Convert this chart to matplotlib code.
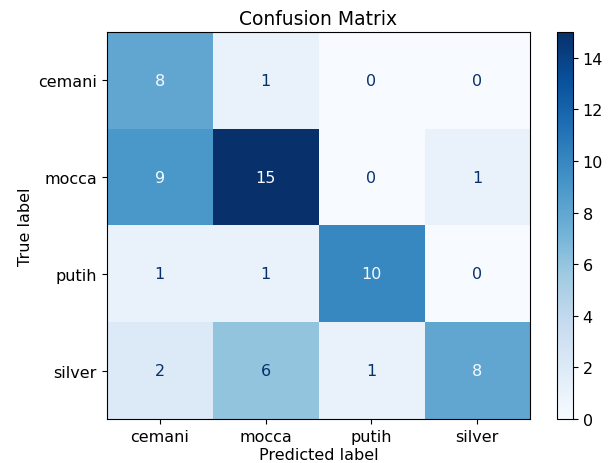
import numpy as np
import matplotlib.pyplot as plt

plt.rcParams["font.size"] = 11.5

labels = ["cemani", "mocca", "putih", "silver"]
cm = np.array([
    [8, 1, 0, 0],
    [9, 15, 0, 1],
    [1, 1, 10, 0],
    [2, 6, 1, 8],
])

fig = plt.figure(figsize=(6.1, 4.64), dpi=100)
ax = fig.add_axes([0.175, 0.095, 0.694, 0.834])
cax = fig.add_axes([0.913, 0.095, 0.026, 0.834])

cmap = plt.cm.Blues
im = ax.imshow(cm, interpolation="nearest", cmap=cmap, aspect="auto")
fig.colorbar(im, cax=cax)

# text colour flips at the midpoint of the value range
cmap_min, cmap_max = cmap(0), cmap(1.0)
thresh = (cm.max() + cm.min()) / 2.0
for i in range(cm.shape[0]):
    for j in range(cm.shape[1]):
        color = cmap_min if cm[i, j] > thresh else cmap_max
        ax.text(j, i, format(cm[i, j], "d"), ha="center", va="center", color=color)

ax.set_xticks(np.arange(len(labels)))
ax.set_yticks(np.arange(len(labels)))
ax.set_xticklabels(labels)
ax.set_yticklabels(labels)
ax.set_xlabel("Predicted label", labelpad=2.5)
ax.set_ylabel("True label")
ax.set_title("Confusion Matrix", fontsize=13.5, pad=6)
ax.set_ylim(len(labels) - 0.5, -0.5)

fig.savefig("out.png")
